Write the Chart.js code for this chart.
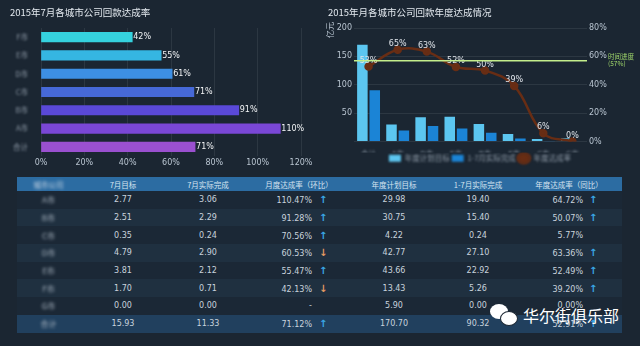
<!DOCTYPE html>
<html>
<head>
<meta charset="utf-8">
<script src="https://cdn.jsdelivr.net/npm/chart.js@4.4.0/dist/chart.umd.min.js"></script>
<style>
  body { margin: 0; background: #1b2632; }
  #page { position: relative; width: 640px; height: 346px; overflow: hidden; background: #1b2632; font-family: "Noto Sans CJK SC", sans-serif; }
  .title { position: absolute; top: 5px; font-size: 9.5px; line-height: 14px; color: #e3e9ef; white-space: nowrap; }
  canvas { position: absolute; top: 0; }
  table { position: absolute; left: 17px; top: 177px; width: 605px; border-collapse: collapse; table-layout: fixed; }
  th { height: 14px; padding: 0; background: #2c6ca2; color: #d6e4f0; font-weight: normal; font-size: 7.5px; text-align: center; }
  td { height: 17.7px; padding: 0; text-align: center; color: #c9d3dd; font-family: "DejaVu Sans", sans-serif; font-size: 8px; }
  tr.odd td { background: #1b2836; }
  tr.even td { background: #1f3040; }
  tr.total td { background: #21405e; }
  .nm { display: inline-block; filter: blur(1.4px); color: #a9b5c1; font-family: "Noto Sans CJK SC", sans-serif; }
  td.rt { text-align: left; }
  .v { display: inline-block; text-align: right; }
  .ar { display: inline-block; font-weight: bold; font-size: 10px; }
  .up { color: #3aa7e4; }
  .down { color: #e39a63; }
  #mark { position: absolute; left: 523px; top: 304px; font-size: 16px; line-height: 22px; color: #ffffff; white-space: nowrap; }
  .bub { position: absolute; background: #ffffff; border-radius: 50%; }
</style>
</head>
<body>
<div id="page">
  <canvas id="rateChart" width="320" height="172" style="left:0"></canvas>
  <canvas id="yearChart" width="320" height="172" style="left:320px"></canvas>
  <div class="title" style="left:10px">2015年7月各城市公司回款达成率</div>
  <div class="title" style="left:328px">2015年月各城市公司回款年度达成情况</div>
  <table id="tbl"></table>
  <div class="bub" style="left:490px;top:304px;width:18px;height:15px"></div>
  <div class="bub" style="left:500px;top:311px;width:16px;height:13px;border:1.5px solid #1b2632"></div>
  <div id="mark">华尔街俱乐部</div>
</div>
<script>
// left chart: July collection rate by city (%)
const rateCities = ["F市", "E市", "D市", "C市", "B市", "A市", "合计"];
const monthRate = [42.13, 55.47, 60.53, 70.56, 91.28, 110.47, 71.12];

// right chart: yearly plan vs actual (亿元) and yearly rate (%)
const yearCities = ["合计", "A市", "D市", "E市", "B市", "F市", "C市", "G市"];
const yearTarget = [170.70, 29.98, 42.77, 43.66, 30.75, 13.43, 4.22, 5.90];
const yearActual = [90.32, 19.40, 27.10, 22.92, 15.40, 5.26, 0.24, 0.00];
const yearRate = [52.91, 64.72, 63.36, 52.49, 50.07, 39.20, 5.77, 0.00];
const progressRate = 57;

// table
const tableHeads = ["城市公司", "7月目标", "7月实际完成", "月度达成率（环比）", "年度计划目标", "1-7月实际完成", "年度达成率（同比）"];
const tableCities = ["A市", "B市", "C市", "D市", "E市", "F市", "G市", "合计"];
const julTarget = ["2.77", "2.51", "0.35", "4.79", "3.81", "1.70", "0.00", "15.93"];
const julActual = ["3.06", "2.29", "0.24", "2.90", "2.12", "0.71", "0.00", "11.33"];
const julRate = ["110.47%", "91.28%", "70.56%", "60.53%", "55.47%", "42.13%", "-", "71.12%"];
const julTrend = ["up", "up", "up", "down", "up", "down", "", "up"];
const planTarget = ["29.98", "30.75", "4.22", "42.77", "43.66", "13.43", "5.90", "170.70"];
const ytdActual = ["19.40", "15.40", "0.24", "27.10", "22.92", "5.26", "0.00", "90.32"];
const ytdRate = ["64.72%", "50.07%", "5.77%", "63.36%", "52.49%", "39.20%", "0.00%", "52.91%"];
const ytdTrend = ["up", "up", "", "up", "up", "up", "", "up"];

const barColors = ["#35d2de", "#35b6e2", "#3d8fe4", "#4669d8", "#5a49d8", "#7a47d6", "#9a50d0"];
const numFont = "DejaVu Sans";
const tickColor = "#b9c5d1";
const nameColor = "#8d99a6";

//build the table
const colWidths = [63, 86, 84, 98, 92, 76, 106];
let html = "<colgroup>" + colWidths.map(w => `<col style="width:${w}px">`).join("") + "</colgroup>";
html += "<tr>" + tableHeads.map((h, i) => i === 0 ? `<th><span class="nm" style="color:#c8d6e4">${h}</span></th>` : `<th>${h}</th>`).join("") + "</tr>";
const arrow = t => t ? `<span class="ar ${t}">${t === "up" ? "↑" : "↓"}</span>` : "";
tableCities.forEach((c, i) => {
  const cls = i === tableCities.length - 1 ? "total" : (i % 2 === 0 ? "odd" : "even");
  html += `<tr class="${cls}">` +
    `<td><span class="nm">${c}</span></td>` +
    `<td>${julTarget[i]}</td><td>${julActual[i]}</td>` +
    `<td class="rt"><span class="v" style="width:62px">${julRate[i]}</span><span style="margin-left:7px">${arrow(julTrend[i])}</span></td>` +
    `<td>${planTarget[i]}</td><td>${ytdActual[i]}</td>` +
    `<td class="rt"><span class="v" style="width:67px">${ytdRate[i]}</span><span style="margin-left:6px">${arrow(ytdTrend[i])}</span></td>` +
    "</tr>";
});
document.getElementById("tbl").innerHTML = html;

//wrap a draw method so its output comes out blurred (names are masked in the original)
function blurMethod(obj, name, px) {
  if (!obj || obj["_blur_" + name]) return;
  const orig = obj[name];
  obj[name] = function (...a) {
    const ctx = this.ctx;
    ctx.save();
    ctx.filter = `blur(${px}px)`;
    orig.apply(this, a);
    ctx.restore();
  };
  obj["_blur_" + name] = true;
}

const blurPlugin = {
  id: "blurNames",
  beforeDraw(chart, args, opts) {
    (opts.scales || []).forEach(id => blurMethod(chart.scales[id], "drawLabels", 1.3));
    if (opts.legend) blurMethod(chart.legend, "draw", 1.3);
  }
};

//percentage label at the end of each horizontal bar
const barLabelPlugin = {
  id: "barLabels",
  afterDatasetsDraw(chart) {
    const ctx = chart.ctx;
    const meta = chart.getDatasetMeta(0);
    ctx.save();
    ctx.font = `8px "${numFont}"`;
    ctx.fillStyle = "#f2f4f6";
    ctx.textAlign = "left";
    ctx.textBaseline = "middle";
    meta.data.forEach((bar, i) => {
      ctx.fillText(Math.round(monthRate[i]) + "%", bar.x + 1, bar.y);
    });
    ctx.restore();
  }
};

new Chart(document.getElementById("rateChart"), {
  type: "bar",
  data: {
    labels: rateCities,
    datasets: [{ data: monthRate, backgroundColor: barColors, barThickness: 9.5, borderWidth: 0 }]
  },
  options: {
    indexAxis: "y",
    responsive: false,
    animation: false,
    layout: { padding: { top: 28, right: 19, left: 0, bottom: 0 } },
    plugins: {
      legend: { display: false },
      tooltip: { enabled: false },
      blurNames: { scales: ["y"] }
    },
    scales: {
      x: {
        min: 0, max: 120,
        ticks: { stepSize: 20, callback: v => v + "%", color: tickColor, font: { family: numFont, size: 8 }, padding: 2 },
        grid: { color: "rgba(255,255,255,0.08)", drawTicks: false },
        border: { display: false },
        afterFit: s => { s.height = 16; }
      },
      y: {
        ticks: { color: nameColor, font: { family: "Noto Sans CJK SC", size: 7.5 }, padding: 5 },
        grid: { display: false },
        border: { display: false },
        afterFit: s => { s.width = 41; }
      }
    }
  },
  plugins: [blurPlugin, barLabelPlugin]
});

//line labels, time-progress line and unit label on the yearly chart
const yearExtrasPlugin = {
  id: "yearExtras",
  afterDatasetsDraw(chart) {
    const ctx = chart.ctx;
    const area = chart.chartArea;
    const meta = chart.getDatasetMeta(2);
    ctx.save();
    ctx.font = `8px "${numFont}"`;
    ctx.fillStyle = "#dfe4ea";
    ctx.textAlign = "center";
    ctx.textBaseline = "middle";
    meta.data.forEach((pt, i) => {
      ctx.fillText(Math.round(yearRate[i]) + "%", pt.x, pt.y - 6);
    });
    // time progress line
    const y = chart.scales.y1.getPixelForValue(progressRate);
    ctx.strokeStyle = "#c4ee8c";
    ctx.lineWidth = 1.5;
    ctx.beginPath();
    ctx.moveTo(area.left, y);
    ctx.lineTo(area.right, y);
    ctx.stroke();
    ctx.fillStyle = "#9fd66a";
    ctx.font = '6.5px "Noto Sans CJK SC"';
    ctx.textAlign = "left";
    ctx.fillText("时间进度", area.right + 21, y - 4);
    ctx.fillText("(" + progressRate + "%)", area.right + 21, y + 3);
    // unit
    ctx.translate(10, 30);
    ctx.rotate(-Math.PI / 2);
    ctx.fillStyle = "#b9c5d1";
    ctx.font = '8px "Noto Sans CJK SC"';
    ctx.textAlign = "center";
    ctx.fillText("亿元", 0, 0);
    ctx.restore();
  }
};

new Chart(document.getElementById("yearChart"), {
  type: "bar",
  data: {
    labels: yearCities,
    datasets: [
      { label: "年度计划目标", data: yearTarget, backgroundColor: "#5cc6f0", yAxisID: "y", pointStyle: "rect", order: 1,
        barPercentage: 0.85, categoryPercentage: 0.85 },
      { label: "1-7月实际完成", data: yearActual, backgroundColor: "#1b84d6", yAxisID: "y", pointStyle: "rect", order: 1,
        barPercentage: 0.85, categoryPercentage: 0.85 },
      { type: "line", label: "年度达成率", data: yearRate, yAxisID: "y1", order: 0,
        borderColor: "#682d14", backgroundColor: "#682d14", borderWidth: 2.5, tension: 0.4,
        pointRadius: 3, pointStyle: "circle" }
    ]
  },
  options: {
    responsive: false,
    animation: false,
    layout: { padding: { top: 28, right: 0, left: 0, bottom: 0 } },
    plugins: {
      tooltip: { enabled: false },
      blurNames: { scales: ["x"], legend: true },
      legend: {
        position: "bottom",
        labels: { usePointStyle: true, boxHeight: 7, pointStyleWidth: 12, padding: 2, color: nameColor,
          font: { family: "Noto Sans CJK SC", size: 7.5 },
          sort: (a, b) => a.datasetIndex - b.datasetIndex }
      }
    },
    scales: {
      x: {
        ticks: { color: nameColor, font: { family: "Noto Sans CJK SC", size: 7.5 }, padding: 0, maxRotation: 0, autoSkip: false },
        grid: { display: false },
        border: { display: false },
        afterFit: s => { s.height = 11; }
      },
      y: {
        position: "left", min: 0, max: 200,
        ticks: { stepSize: 50, callback: v => v === 0 ? "" : v, color: tickColor, font: { family: numFont, size: 8 }, padding: 2 },
        grid: { color: "rgba(255,255,255,0.08)", drawTicks: false },
        border: { display: false },
        afterFit: s => { s.width = 34; }
      },
      y1: {
        position: "right", min: 0, max: 80,
        ticks: { stepSize: 20, callback: v => v + "%", color: tickColor, font: { family: numFont, size: 8 }, padding: 2 },
        grid: { drawOnChartArea: false, drawTicks: false },
        border: { display: false },
        afterFit: s => { s.width = 53; }
      }
    }
  },
  plugins: [blurPlugin, yearExtrasPlugin]
});
</script>
</body>
</html>
